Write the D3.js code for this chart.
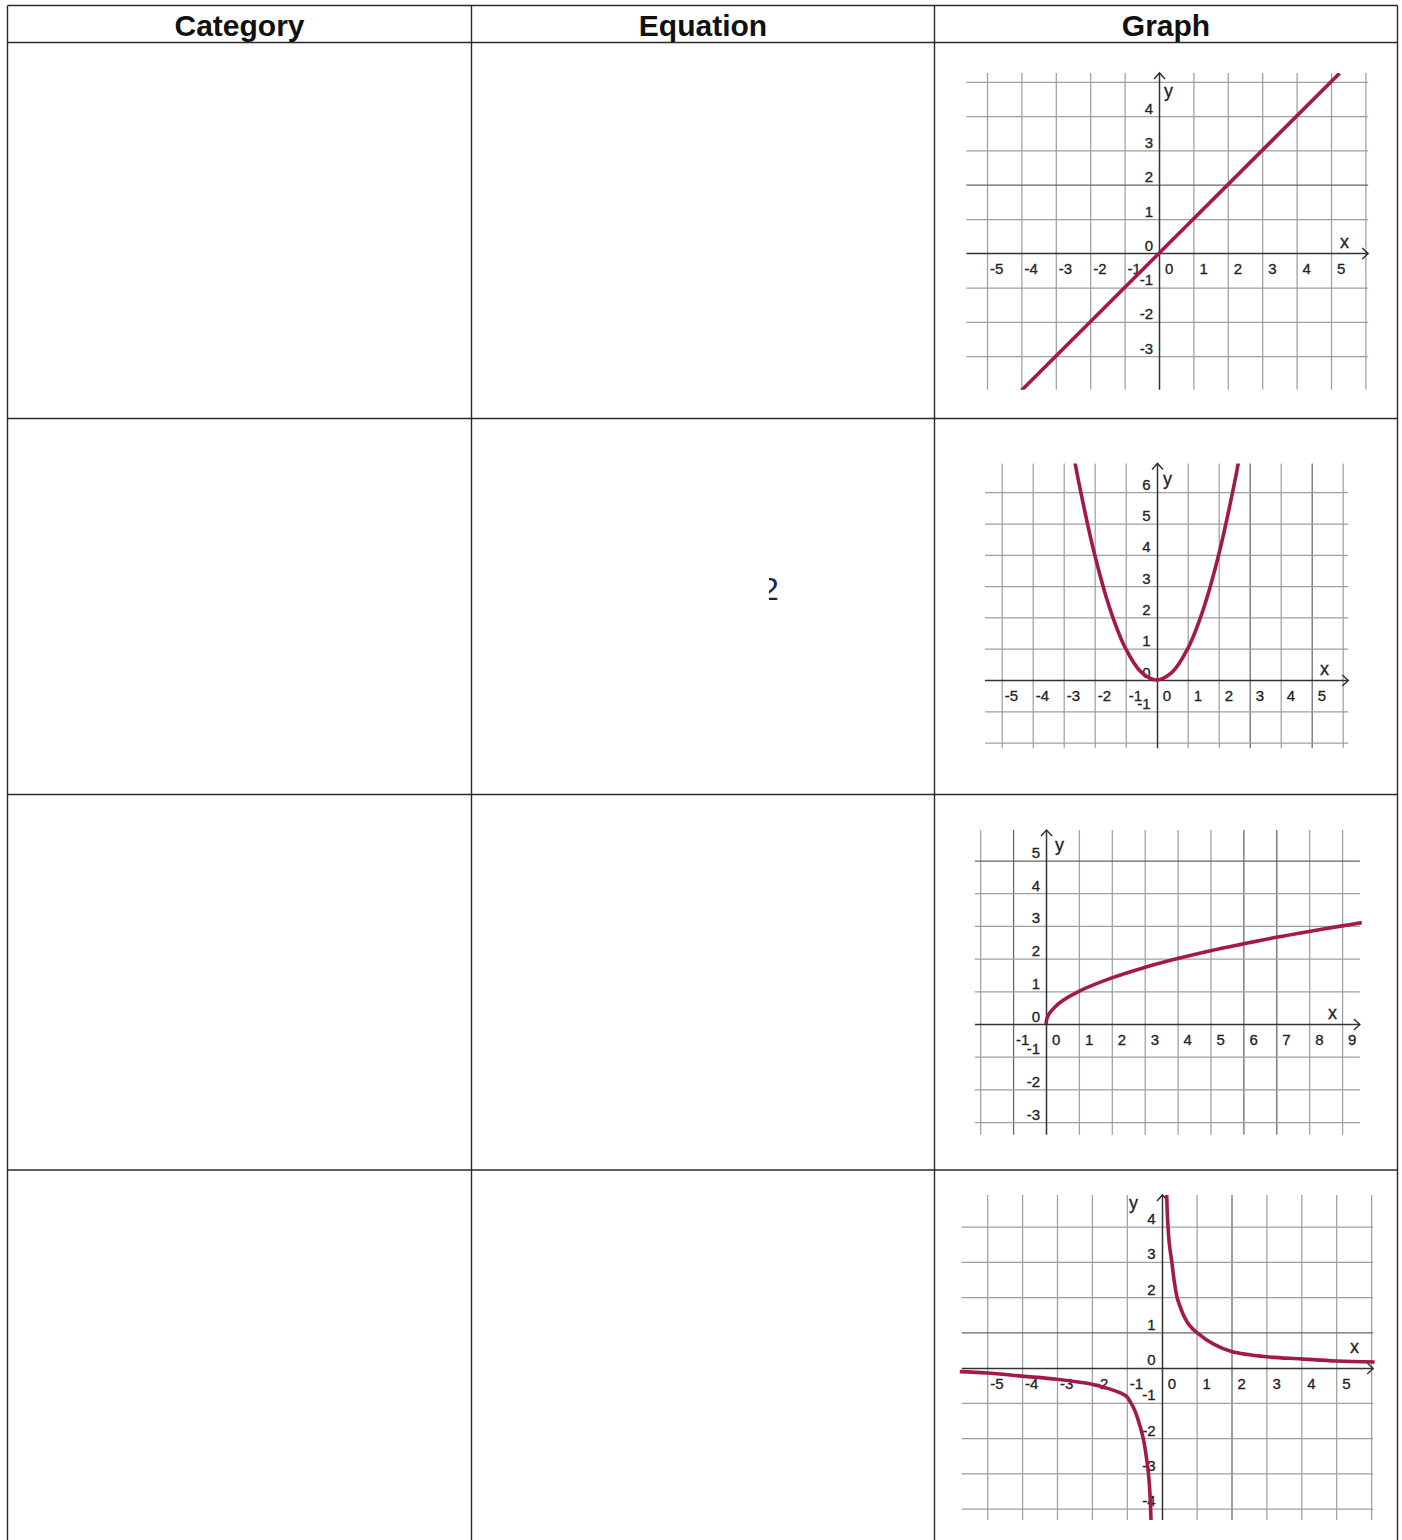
<!DOCTYPE html>
<html>
<head>
<meta charset="utf-8">
<script src="https://cdn.jsdelivr.net/npm/d3@7"></script>
<style>
  body { margin: 0; background: #fff; }
  svg { display: block; }
</style>
</head>
<body>
<script>
// table headers
var headers = ["Category", "Equation", "Graph"];

// row 1: linear
var linearXLabels = [-5, -4, -3, -2, -1, 0, 1, 2, 3, 4, 5];
var linearYLabels = [4, 3, 2, 1, 0, -1, -2, -3];
var linearPoints = [[-4, -4], [5.25, 5.25]];

// row 2: quadratic
var quadXLabels = [-5, -4, -3, -2, -1, 0, 1, 2, 3, 4, 5];
var quadYLabels = [6, 5, 4, 3, 2, 1, 0, -1];
var quadPoints = [[-2.7, 7.3], [-2.5, 6.25], [-2, 4], [-1.5, 2.25], [-1, 1], [-0.5, 0.25], [0, 0],
                  [0.5, 0.25], [1, 1], [1.5, 2.25], [2, 4], [2.5, 6.25], [2.7, 7.3]];

// row 3: square root
var sqrtXLabels = [-1, 0, 1, 2, 3, 4, 5, 6, 7, 8, 9];
var sqrtYLabels = [5, 4, 3, 2, 1, 0, -1, -2, -3];
var sqrtPoints = [[0, 0], [0.03, 0.17], [0.1, 0.32], [0.25, 0.5], [0.5, 0.71], [1, 1], [2, 1.41],
                  [3, 1.73], [4, 2], [5, 2.24], [6, 2.45], [7, 2.65], [8, 2.83], [9, 3], [9.6, 3.1]];

// row 4: reciprocal (two branches)
var recipXLabels = [-5, -4, -3, -2, -1, 0, 1, 2, 3, 4, 5];
var recipYLabels = [4, 3, 2, 1, 0, -1, -2, -3, -4];
var recipRight = [[0.13, 5.3], [0.17, 4.2], [0.22, 3.5], [0.29, 3], [0.36, 2.45], [0.44, 2], [0.52, 1.75],
                  [0.62, 1.5], [0.78, 1.22], [1, 1], [1.5, 0.66], [2, 0.46], [3, 0.31], [4, 0.25],
                  [5, 0.19], [6.1, 0.16]];
var recipLeft = [[-5.8, -0.11], [-5, -0.15], [-4, -0.24], [-3, -0.33], [-2, -0.47], [-1.5, -0.6],
                 [-1.2, -0.71], [-1, -0.82], [-0.9, -0.97], [-0.8, -1.15], [-0.7, -1.4], [-0.53, -2],
                 [-0.43, -2.6], [-0.38, -3], [-0.33, -3.7], [-0.3, -4.6]];

// page layout
var W = 1402, H = 1540;
var colEdges = [7.5, 471.5, 934.5, 1397.5];
var rowEdges = [5.5, 42.5, 418.5, 794.5, 1170];

var panels = [
    { xLabels: linearXLabels, yLabels: linearYLabels, series: [linearPoints],
      cx: 1159, cy: 253.3, ux: 34.4, uy: 34.3, xMin: -5.6, xMax: 6.08, yMin: -3.98, yMax: 5.26,
      xName: [1340, 248], yName: [1164, 97], darkX: [], darkY: [2] },
    { xLabels: quadXLabels, yLabels: quadYLabels, series: [quadPoints],
      cx: 1156.7, cy: 680, ux: 31, uy: 31.3, xMin: -5.54, xMax: 6.18, yMin: -2.18, yMax: 6.92,
      xName: [1320, 675], yName: [1163, 485], darkX: [3, 5], darkY: [] },
    { xLabels: sqrtXLabels, yLabels: sqrtYLabels, series: [sqrtPoints],
      cx: 1046, cy: 1024, ux: 32.9, uy: 32.7, xMin: -2.16, xMax: 9.54, yMin: -3.39, yMax: 5.93,
      xName: [1328, 1019], yName: [1055, 851], darkX: [-1, 6, 7], darkY: [5] },
    { xLabels: recipXLabels, yLabels: recipYLabels, series: [recipLeft, recipRight],
      cx: 1161.7, cy: 1367.7, ux: 34.9, uy: 35.25, xMin: -5.73, xMax: 6.06, yMin: -4.32, yMax: 4.9,
      xName: [1350, 1353], yName: [1129, 1209], darkX: [2], darkY: [1] }
];

var font = "'Liberation Sans', Arial, sans-serif";
var curveColor = "#a11a4b";

var svg = d3.select("body").append("svg")
    .attr("width", W)
    .attr("height", H);

// Table frame
var table = svg.append("g")
    .attr("stroke", "#2a2a2a")
    .attr("stroke-width", 1.4);

table.selectAll("line.row")
    .data(rowEdges)
    .enter().append("line")
    .attr("class", "row")
    .attr("x1", colEdges[0]).attr("x2", colEdges[3])
    .attr("y1", d => d).attr("y2", d => d);

table.selectAll("line.col")
    .data(colEdges)
    .enter().append("line")
    .attr("class", "col")
    .attr("x1", d => d).attr("x2", d => d)
    .attr("y1", rowEdges[0]).attr("y2", H);

// Header texts
svg.selectAll("text.head")
    .data(headers)
    .enter().append("text")
    .attr("class", "head")
    .attr("x", (d, i) => (colEdges[i] + colEdges[i + 1]) / 2)
    .attr("y", 36)
    .attr("text-anchor", "middle")
    .attr("font-family", font)
    .attr("font-weight", "bold")
    .attr("font-size", 30)
    .attr("fill", "#111")
    .text(d => d);

// leftover glyph in the equation column (half hidden superscript)
svg.append("clipPath").attr("id", "eqclip")
    .append("rect").attr("x", 769).attr("y", 560).attr("width", 20).attr("height", 50);
svg.append("text")
    .attr("clip-path", "url(#eqclip)")
    .attr("x", 761).attr("y", 600)
    .attr("font-family", font)
    .attr("font-size", 32)
    .attr("fill", "#1b2550")
    .text("2");

// Function to draw one coordinate grid with its curve
function drawPanel(p, idx) {
    var sx = d3.scaleLinear()
        .domain([p.xMin, p.xMax])
        .range([p.cx + p.xMin * p.ux, p.cx + p.xMax * p.ux]);
    var sy = d3.scaleLinear()
        .domain([p.yMin, p.yMax])
        .range([p.cy - p.yMin * p.uy, p.cy - p.yMax * p.uy]);

    var left = sx(p.xMin), right = sx(p.xMax);
    var top = sy(p.yMax), bottom = sy(p.yMin);

    var g = svg.append("g");

    var gridX = d3.range(Math.ceil(p.xMin), Math.floor(p.xMax) + 1).filter(v => v !== 0);
    var gridY = d3.range(Math.ceil(p.yMin), Math.floor(p.yMax) + 1).filter(v => v !== 0);

    // vertical grid lines
    var gx = g.append("g")
        .attr("transform", "translate(0," + bottom + ")")
        .call(d3.axisBottom(sx).tickValues(gridX).tickSize(-(bottom - top)).tickFormat(""));
    gx.select(".domain").remove();
    gx.selectAll(".tick line")
        .attr("stroke", d => p.darkX.indexOf(d) >= 0 ? "#666" : "#9f9f9f")
        .attr("stroke-width", 1.25);

    // horizontal grid lines
    var gy = g.append("g")
        .attr("transform", "translate(" + left + ",0)")
        .call(d3.axisLeft(sy).tickValues(gridY).tickSize(-(right - left)).tickFormat(""));
    gy.select(".domain").remove();
    gy.selectAll(".tick line")
        .attr("stroke", d => p.darkY.indexOf(d) >= 0 ? "#666" : "#9f9f9f")
        .attr("stroke-width", 1.25);

    // axes
    var x0 = Math.round(sx(0)) + 0.5, y0 = Math.round(sy(0)) + 0.5;
    var ax = g.append("g")
        .attr("stroke", "#333")
        .attr("stroke-width", 1.5)
        .attr("fill", "none");
    ax.append("line").attr("x1", left).attr("x2", right).attr("y1", y0).attr("y2", y0);
    ax.append("line").attr("x1", x0).attr("x2", x0).attr("y1", top).attr("y2", bottom);
    // arrow heads
    ax.append("path").attr("d", "M" + (x0 - 5.5) + "," + (top + 6) + "L" + x0 + "," + top + "L" + (x0 + 5.5) + "," + (top + 6));
    ax.append("path").attr("d", "M" + (right - 6) + "," + (y0 - 5.5) + "L" + right + "," + y0 + "L" + (right - 6) + "," + (y0 + 5.5));

    // tick labels
    var lab = g.append("g")
        .attr("font-family", font)
        .attr("font-size", 15)
        .attr("fill", "#222")
        .attr("stroke", "#222")
        .attr("stroke-width", 0.3);

    lab.selectAll("text.xl")
        .data(p.xLabels)
        .enter().append("text")
        .attr("class", "xl")
        .attr("x", d => sx(d) + (d < 0 ? 3 : 6))
        .attr("y", sy(0) + 21)
        .text(d => String(d));

    lab.selectAll("text.yl")
        .data(p.yLabels)
        .enter().append("text")
        .attr("class", "yl")
        .attr("x", sx(0) - 6)
        .attr("y", d => sy(d) - 2.5)
        .attr("text-anchor", "end")
        .text(d => String(d));

    // axis names
    lab.append("text").attr("x", p.xName[0]).attr("y", p.xName[1]).attr("font-size", 18).text("x");
    lab.append("text").attr("x", p.yName[0]).attr("y", p.yName[1]).attr("font-size", 18).text("y");

    // curve, clipped to the grid
    var clipId = "clip" + idx;
    g.append("clipPath").attr("id", clipId)
        .append("rect")
        .attr("x", left - 2).attr("y", top)
        .attr("width", right - left + 4).attr("height", bottom - top);

    var line = d3.line()
        .x(d => sx(d[0]))
        .y(d => sy(d[1]))
        .curve(d3.curveCatmullRom.alpha(0.5));

    g.append("g")
        .attr("clip-path", "url(#" + clipId + ")")
        .selectAll("path")
        .data(p.series)
        .enter().append("path")
        .attr("d", line)
        .attr("fill", "none")
        .attr("stroke", curveColor)
        .attr("stroke-width", 3.6);
}

panels.forEach(drawPanel);
</script>
</body>
</html>
